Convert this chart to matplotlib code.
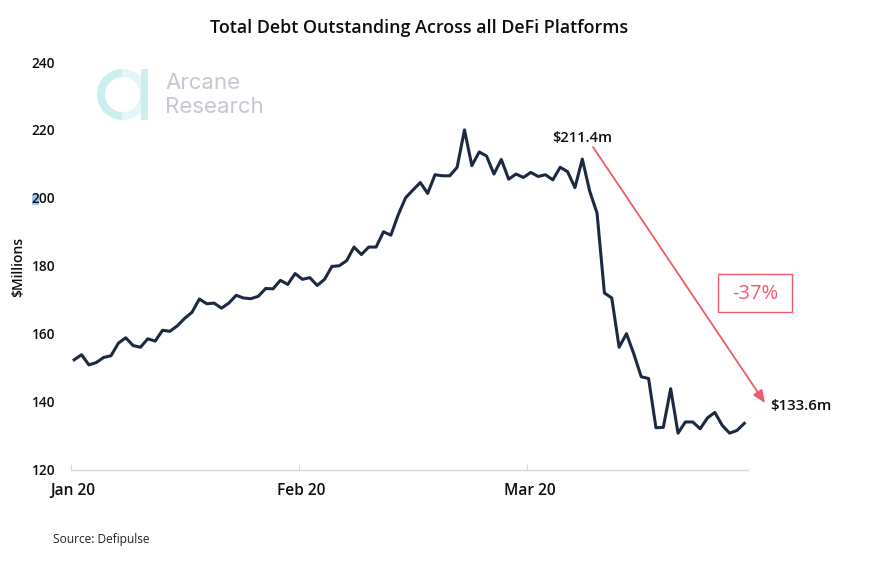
import matplotlib
matplotlib.use("Agg")
import matplotlib.pyplot as plt
from matplotlib.patches import Wedge, Rectangle
from matplotlib.transforms import ScaledTranslation

values = [152.3,153.8,150.8,151.5,153,153.5,157.2,158.8,156.5,156,158.5,157.8,161,160.7,162.3,164.5,166.3,170.2,168.8,169,
          167.5,169,171.3,170.5,170.3,171,173.3,173.2,175.7,174.5,177.7,176,176.5,174.2,176,179.8,180,181.5,185.5,183.3,
          185.5,185.5,190,189,195,200,202.3,204.5,201.3,206.8,206.5,206.5,209,220,209.5,213.5,212.3,207,211.3,205.5,
          207,206,207.5,206.3,206.8,205.3,209,207.7,203,211.4,202,195.5,172,170.5,156,160,154,147.3,146.8,132.3,
          132.4,143.8,130.7,134,134,132,135.2,136.8,133,130.7,131.5,133.6]
y_ticks = [120,140,160,180,200,220,240]
x_tick_pos = [-0.5,30.5,61.5]
x_tick_labels = ["Jan 20","Feb 20","Mar 20"]
title = "Total Debt Outstanding Across all DeFi Platforms"

W,H = 888,574
plt.rcParams['font.family'] = ['Open Sans','DejaVu Sans']
fig = plt.figure(figsize=(W/100,H/100),dpi=100)
L,R,T,B = 70.5,748,62,469.5
ax = fig.add_axes([L/W,1-B/H,(R-L)/W,(B-T)/H])
ax.patch.set_visible(False)
ax.plot(range(len(values)),values,color="#1b2a41",lw=2.2,solid_joinstyle='round',zorder=3)
ax.set_xlim(-0.5,91.5); ax.set_ylim(120,240)
for s in ['top','right','left']: ax.spines[s].set_visible(False)
ax.spines['bottom'].set_color('#d9d9d9'); ax.spines['bottom'].set_linewidth(1.0)
ax.set_yticks(y_ticks)
ax.tick_params(axis='y',length=0,pad=11,labelsize=9.8)
ax.set_xticks(x_tick_pos,x_tick_labels)
ax.tick_params(axis='x',length=4,direction='in',color='#d9d9d9',pad=10,labelsize=11.2)
for t in ax.get_yticklabels(): t.set_fontweight(600); t.set_color('#0d0d0d')
for t in ax.get_xticklabels():
    t.set_fontweight(600); t.set_color('#0d0d0d')
    t.set_transform(t.get_transform()+ScaledTranslation(2.5/100,0,fig.dpi_scale_trans))

def px(x,y): return x/W,1-y/H
dark = '#0d0d0d'
fig.text(*px(419,28),title,ha='center',va='center',fontsize=12.9,fontweight=600,color=dark)
fig.text(*px(18,266.5),"$Millions",rotation=90,ha='center',va='center',fontsize=10,fontweight=600,color=dark)
fig.text(*px(53,539.5),"Source: Defipulse",ha='left',va='center',fontsize=8.6,color='#222222')
fig.text(*px(582,138),"$211.4m",ha='center',va='center',fontsize=10.5,fontweight=600,color=dark)
fig.text(*px(800.5,406),"$133.6m",ha='center',va='center',fontsize=10.8,fontweight=600,color=dark)
red = '#f2596b'
fig.text(*px(755,294.5),"-37%",ha='center',va='center',fontsize=14.5,fontweight=500,color=red)
fig.add_artist(Rectangle((718/W,1-311.5/H),73.5/W,37.5/H,transform=fig.transFigure,fill=False,ec=red,lw=1.0))
ax.annotate("",xy=px(765,403),xytext=px(593,147),xycoords='figure fraction',textcoords='figure fraction',
            arrowprops=dict(arrowstyle='-|>,head_length=0.75,head_width=0.32',color=red,lw=1.3,shrinkA=0,shrinkB=0))

# text-selection highlight behind the "2" of the 200 tick label
fig.add_artist(Rectangle((32/W,1-204.5/H),7/W,11/H,transform=fig.transFigure,fc='#9fc6e6',ec='none',zorder=-1))

# logo
overlay = fig.add_axes([0,0,1,1],facecolor='none'); overlay.set_axis_off()
overlay.set_xlim(0,W); overlay.set_ylim(H,0)
cx,cy,r = 122.5,94.5,25.5
overlay.add_patch(Wedge((cx,cy),r,90,270,width=8,fc='#c9f0ee',ec='none'))
overlay.add_patch(Wedge((cx,cy),r,-90,90,width=8,fc='#e4f6f5',ec='none'))
overlay.add_patch(Rectangle((140.7,69),7.6,51,fc='#c9f0ee',ec='none'))
overlay.text(165,89,"Arcane",fontsize=16,family='Inter',color='#c4c8d0',va='baseline')
overlay.text(165,113,"Research",fontsize=16,family='Inter',color='#c4c8d0',va='baseline')
fig.savefig("out.png",dpi=100)
